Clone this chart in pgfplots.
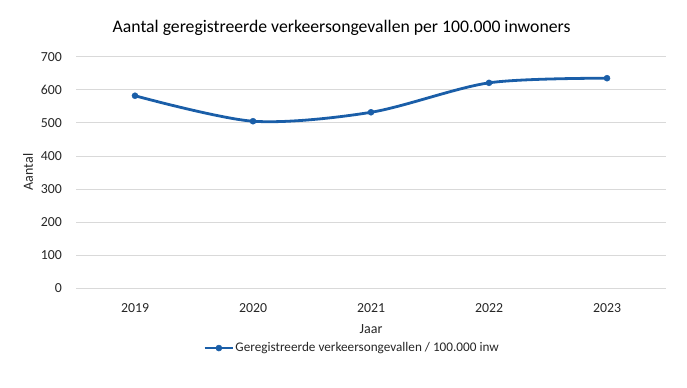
\documentclass[border=0pt]{standalone}
\usepackage{pgfplots}
\pgfplotsset{compat=1.18}
\usepackage{fontspec}
\setmainfont{Carlito}
\definecolor{lineblue}{HTML}{1A5EA8}
\definecolor{gridgray}{HTML}{D9D9D9}
\definecolor{txt}{HTML}{262626}
\begin{document}
\begin{tikzpicture}[x=1bp,y=1bp]
\useasboundingbox (0,0) rectangle (687,387);
\node[anchor=base, font=\fontsize{17.7bp}{20bp}\selectfont, text=black, inner sep=0pt] at (341.5,354.3) {Aantal geregistreerde verkeersongevallen per 100.000 inwoners};
\node[rotate=90, font=\fontsize{14bp}{16bp}\selectfont, text=txt, inner sep=0pt] at (28,215) {Aantal};
\begin{axis}[
  at={(76bp,98.7bp)}, anchor=south west,
  scale only axis, width=590bp, height=231.6bp,
  xmin=-0.5, xmax=4.5, ymin=0, ymax=700,
  xtick={0,1,2,3,4}, xticklabels={2019,2020,2021,2022,2023},
  ytick={0,100,...,700},
  /pgf/number format/assume math mode=true,
  axis line style={draw=none},
  tick style={draw=none},
  ymajorgrids, grid style={gridgray, line width=0.9bp},
  clip=false,
  tick label style={font=\fontsize{13.8bp}{16bp}\selectfont, text=txt},
  yticklabel style={anchor=east, inner sep=0pt, xshift=-14bp},
  xticklabel style={anchor=base, inner sep=0pt, yshift=-23.7bp},
  xlabel={Jaar},
  xlabel style={at={(axis description cs:0.5,0)}, anchor=north, inner sep=0pt, yshift=-35.7bp, font=\fontsize{14bp}{16bp}\selectfont, text=txt},
  legend style={at={(axis description cs:0.467,-0.258)}, anchor=center, draw=none, fill=none, inner sep=0pt, font=\fontsize{13.2bp}{15bp}\selectfont, text=txt, nodes={inner sep=1bp}},
  legend cell align=left,
  legend image code/.code={\draw[mark repeat=2,mark phase=2] plot coordinates {(0cm,0cm) (0.5cm,0cm) (1cm,0cm)};},
]
\addplot[lineblue, line width=2.8bp, smooth, tension=0.5, mark=*, mark size=3bp, mark options={fill=lineblue, draw=lineblue, line width=0.5bp}] coordinates {(0,582) (1,505) (2,532) (3,621) (4,635)};
\addlegendentry{Geregistreerde verkeersongevallen / 100.000 inw}
\end{axis}
\end{tikzpicture}
\end{document}
